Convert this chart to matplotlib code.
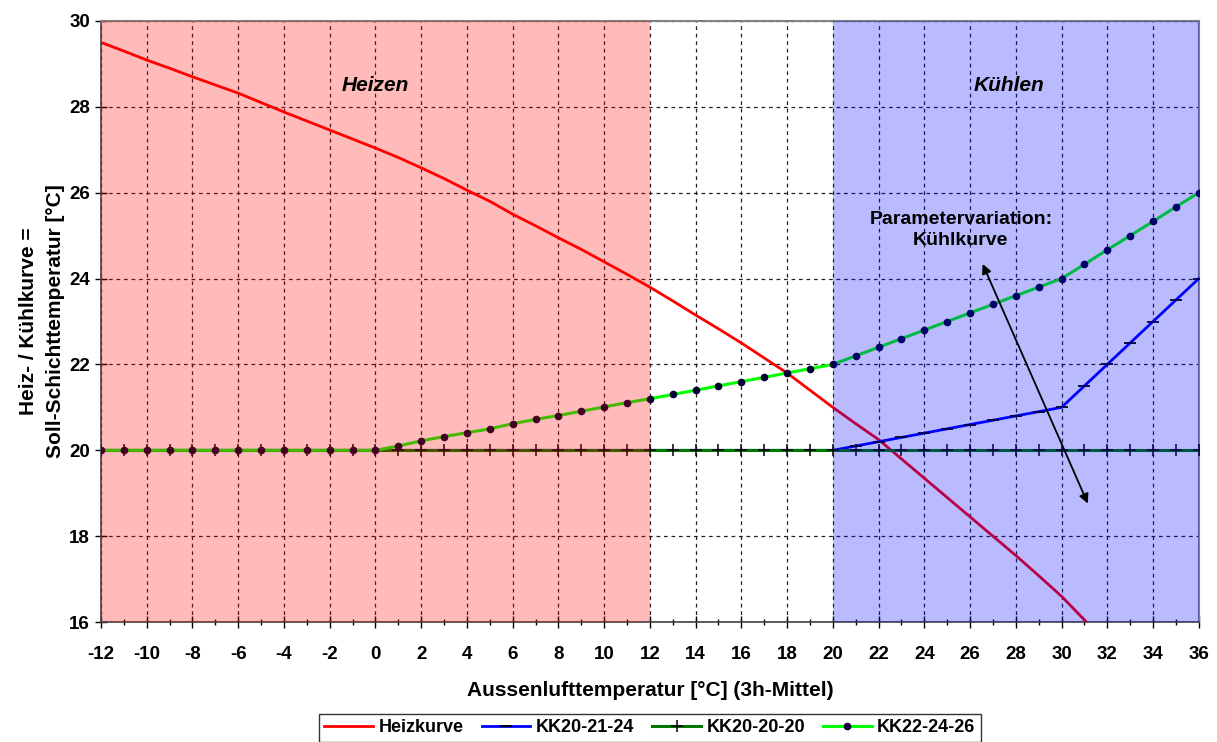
import numpy as np
import matplotlib
matplotlib.use("Agg")
import matplotlib.pyplot as plt

plt.rcParams['font.family'] = ['Liberation Sans', 'DejaVu Sans']
plt.rcParams['axes.unicode_minus'] = False

# Aussenlufttemperatur [°C]
x = np.arange(-12, 37)

# Heizkurve (endet unter 16 °C bei ca. 31 °C)
x_heiz = np.arange(-12, 33)
heizkurve = [29.5, 29.3, 29.09, 28.9, 28.7, 28.51, 28.32, 28.1, 27.88, 27.67, 27.46, 27.25,
             27.04, 26.82, 26.58, 26.33, 26.06, 25.8, 25.5, 25.23, 24.95, 24.68, 24.39, 24.1,
             23.8, 23.48, 23.15, 22.83, 22.5, 22.15, 21.8, 21.4, 21.0, 20.62, 20.25, 19.8,
             19.35, 18.9, 18.45, 18.0, 17.55, 17.08, 16.6, 16.05, 15.5]

kk20_21_24 = [20.0] * 33 + [20.1, 20.2, 20.3, 20.4, 20.5, 20.6, 20.7, 20.8, 20.9, 21.0,
                            21.5, 22.0, 22.5, 23.0, 23.5, 24.0]
kk20_20_20 = [20.0] * 49
kk22_24_26 = [20.0] * 13 + [20.1, 20.22, 20.32, 20.41, 20.5, 20.62, 20.72, 20.81, 20.91,
                            21.01, 21.11, 21.2, 21.3, 21.4, 21.5, 21.6, 21.7, 21.8, 21.9, 22.0,
                            22.2, 22.4, 22.6, 22.8, 23.0, 23.2, 23.4, 23.6, 23.8, 24.0,
                            24.33, 24.67, 25.0, 25.33, 25.67, 26.0]

fig = plt.figure(figsize=(12.17, 7.42), dpi=100)
ax = fig.add_axes([0.083, 0.1617, 0.902, 0.81])

ax.plot(x_heiz, heizkurve, color='#ff0000', lw=2, label='Heizkurve', zorder=3)
ax.plot(x, kk20_21_24, color='#0000ff', lw=2, marker='_', ms=9, mew=1.3, mec='black',
        label='KK20-21-24', zorder=4)
ax.plot(x, kk20_20_20, color='#007800', lw=2.2, marker='+', ms=8, mew=1.1, mec='black',
        label='KK20-20-20', zorder=5)
ax.plot(x, kk22_24_26, color='#00ff00', lw=2.2, marker='o', ms=4.5, mfc='#000033',
        mec='#000033', label='KK22-24-26', zorder=6)

# Heiz- / Kuehlbereich (halbtransparent ueber den Linien)
ax.axvspan(-12, 12, color='#ff0000', alpha=0.27, lw=0, zorder=7)
ax.axvspan(20, 36, color='#0000ff', alpha=0.27, lw=0, zorder=7)

ax.text(0, 28.5, 'Heizen', fontsize=15, fontweight='bold', fontstyle='italic',
        ha='center', va='center', zorder=8)
ax.text(27.7, 28.5, 'Kühlen', fontsize=15, fontweight='bold', fontstyle='italic',
        ha='center', va='center', zorder=8)
ax.text(25.6, 25.13, 'Parametervariation:\nKühlkurve', fontsize=14, fontweight='bold',
        ha='center', va='center', linespacing=1.3, zorder=8)
ax.annotate('', xy=(26.5, 24.4), xytext=(31.2, 18.7),
            arrowprops=dict(arrowstyle='<|-|>', color='black', lw=1.3,
                            mutation_scale=14), zorder=8)

ax.set_xlim(-12, 36)
ax.set_ylim(16, 30)
ax.set_xticks(np.arange(-12, 37, 2))
ax.set_xticks(np.arange(-12, 37, 1), minor=True)
ax.set_yticks(np.arange(16, 31, 2))
ax.grid(True, which='major', color='#202020', ls=(0, (3, 3)), lw=0.9, zorder=1)
ax.tick_params(axis='both', which='major', direction='inout', length=8, width=1,
               labelsize=13.5)
ax.tick_params(axis='x', which='major', pad=13)
ax.tick_params(axis='y', which='major', pad=4)
ax.tick_params(axis='x', which='minor', direction='inout', length=5, width=1)
for lab in ax.get_xticklabels() + ax.get_yticklabels():
    lab.set_fontweight('bold')

for s in ['left', 'bottom']:
    ax.spines[s].set_color('#404040')
    ax.spines[s].set_linewidth(1.2)
for s in ['top', 'right']:
    ax.spines[s].set_color('#808080')
    ax.spines[s].set_linewidth(1.5)

ax.set_xlabel('Aussenlufttemperatur [°C] (3h-Mittel)', fontsize=15, fontweight='bold',
              labelpad=13)
ax.set_ylabel('Heiz- / Kühlkurve =\nSoll-Schichttemperatur [°C]', fontsize=15,
              fontweight='bold', labelpad=3, linespacing=1.5)

leg = ax.legend(loc='upper center', bbox_to_anchor=(0.5, -0.153), ncol=4, frameon=True,
                fancybox=False, edgecolor='black', fontsize=13, handlelength=2.7,
                columnspacing=1.0, handletextpad=0.3, borderpad=0.3, borderaxespad=0)
leg.get_frame().set_linewidth(1.0)
for t in leg.get_texts():
    t.set_fontweight('bold')

fig.savefig('out.png', dpi=100)
